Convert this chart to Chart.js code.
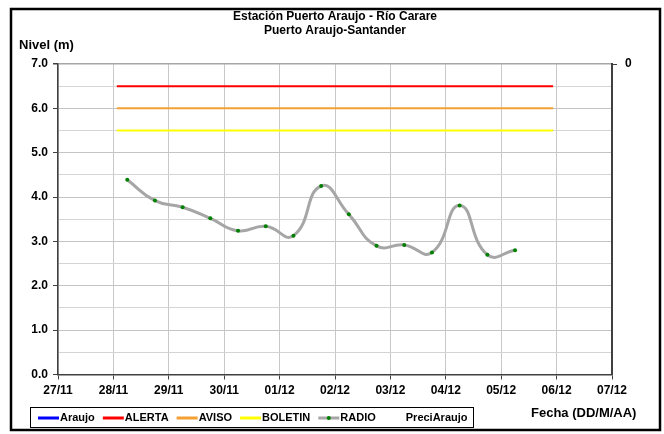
<!DOCTYPE html>
<html>
<head>
<meta charset="utf-8">
<title>Estación Puerto Araujo - Río Carare</title>
<script src="https://cdn.jsdelivr.net/npm/chart.js@4.4.1/dist/chart.umd.min.js"></script>
<style>
  body { margin: 0; background: #fff; }
  canvas { display: block; }
</style>
</head>
<body>
<canvas id="nivel-chart" width="664" height="434"></canvas>
<script>
// datos
const tickLabels = ['27/11', '28/11', '29/11', '30/11', '01/12', '02/12', '03/12', '04/12', '05/12', '06/12', '07/12'];
const radioTimes = ['28/11 06:00', '28/11 18:00', '29/11 06:00', '29/11 18:00', '30/11 06:00', '30/11 18:00',
    '01/12 06:00', '01/12 18:00', '02/12 06:00', '02/12 18:00', '03/12 06:00', '03/12 18:00',
    '04/12 06:00', '04/12 18:00', '05/12 06:00'];
const radioLevels = [4.39, 3.92, 3.77, 3.52, 3.24, 3.34, 3.13, 4.25, 3.61, 2.90, 2.92, 2.75, 3.81, 2.70, 2.80];
const thresholdNames = ['ALERTA', 'AVISO', 'BOLETIN'];
const thresholdLevels = [6.5, 6.0, 5.5];
const thresholdColors = ['#ff0000', '#f4a034', '#ffff00'];
const thresholdSpan = ['28/11 01:30', '05/12 22:30'];

const FONT = '"Liberation Sans", Arial, sans-serif';

// fecha 'DD/MM HH:MM' -> días desde 27/11
function toDays(s) {
    const [d, t] = s.split(' ');
    const [dd, mm] = d.split('/').map(Number);
    const [hh, mi] = (t || '00:00').split(':').map(Number);
    return (Date.UTC(2000, mm - 1, dd, hh, mi) - Date.UTC(2000, 10, 27)) / 86400000;
}

const datasets = [{
    label: 'Araujo',
    data: [],
    borderColor: '#0000ff',
    borderWidth: 2.5,
    pointRadius: 0
}];
thresholdNames.forEach((name, i) => {
    datasets.push({
        label: name,
        data: thresholdSpan.map(t => ({ x: toDays(t), y: thresholdLevels[i] })),
        borderColor: thresholdColors[i],
        borderWidth: 2,
        pointRadius: 0
    });
});
datasets.push({
    label: 'RADIO',
    data: radioTimes.map((t, i) => ({ x: toDays(t), y: radioLevels[i] })),
    borderColor: '#a6a6a6',
    borderWidth: 3,
    tension: 0.5,
    pointRadius: 2,
    pointBackgroundColor: '#008000',
    pointBorderColor: '#008000',
    pointBorderWidth: 0
});
datasets.push({
    label: 'PreciAraujo',
    data: [],
    yAxisID: 'y2',
    borderColor: 'rgba(0,0,0,0)',
    pointRadius: 0
});

// títulos, leyenda y marco
const decorPlugin = {
    id: 'decor',
    beforeDraw(chart) {
        const ctx = chart.ctx;
        ctx.save();
        ctx.fillStyle = '#fff';
        ctx.fillRect(0, 0, chart.width, chart.height);
        ctx.restore();
    },
    afterDraw(chart) {
        const ctx = chart.ctx;
        const area = chart.chartArea;
        ctx.save();
        ctx.fillStyle = '#000';
        ctx.textBaseline = 'middle';

        ctx.font = 'bold 12px ' + FONT;
        ctx.textAlign = 'center';
        const cx = (area.left + area.right) / 2;
        ctx.fillText('Estación Puerto Araujo - Río Carare', cx, 17);
        ctx.fillText('Puerto Araujo-Santander', cx, 31);

        ctx.font = 'bold 13px ' + FONT;
        ctx.textAlign = 'left';
        ctx.fillText('Nivel (m)', 19, 45);
        ctx.fillText('Fecha (DD/M/AA)', 531, 413);

        // leyenda
        ctx.lineWidth = 1;
        ctx.strokeStyle = '#000';
        ctx.strokeRect(30.5, 407.5, 443, 20);
        ctx.font = 'bold 11px ' + FONT;
        let x = 38;
        const y = 418;
        chart.data.datasets.forEach(ds => {
            ctx.strokeStyle = ds.borderColor;
            ctx.lineWidth = 3;
            ctx.beginPath();
            ctx.moveTo(x, y);
            ctx.lineTo(x + 21, y);
            ctx.stroke();
            if (ds.pointRadius > 0) {
                ctx.fillStyle = ds.pointBackgroundColor;
                ctx.beginPath();
                ctx.arc(x + 10.5, y, 2, 0, Math.PI * 2);
                ctx.fill();
            }
            ctx.fillStyle = '#000';
            ctx.fillText(ds.label, x + 22, y);
            x += 22 + ctx.measureText(ds.label).width + 8;
        });

        // marco exterior
        ctx.lineWidth = 2.5;
        ctx.strokeStyle = '#000';
        ctx.strokeRect(11, 9, 649, 421);
        ctx.restore();
    }
};

new Chart(document.getElementById('nivel-chart'), {
    type: 'line',
    data: { datasets: datasets },
    plugins: [decorPlugin],
    options: {
        responsive: false,
        animation: false,
        layout: { padding: { top: 64, bottom: 29.5, left: 0, right: 0 } },
        plugins: {
            legend: { display: false },
            title: { display: false },
            tooltip: { enabled: false }
        },
        scales: {
            x: {
                type: 'linear',
                min: 0,
                max: 10,
                afterFit: scale => { scale.height = 30; },
                ticks: {
                    stepSize: 1,
                    padding: 4,
                    color: '#000',
                    font: { family: FONT, size: 12, weight: 'bold' },
                    maxRotation: 0,
                    callback: v => tickLabels[v]
                },
                grid: { color: '#c8c8c8', tickLength: 5, tickColor: '#404040' },
                border: { color: '#404040', width: 1.5 }
            },
            y: {
                min: 0,
                max: 7,
                afterFit: scale => { scale.width = 58; },
                ticks: {
                    stepSize: 0.5,
                    padding: 5,
                    color: '#000',
                    font: { family: FONT, size: 12, weight: 'bold' },
                    callback: v => (Number.isInteger(v) ? v.toFixed(1) : '')
                },
                grid: {
                    color: c => (c.tick && c.tick.value === 7 ? '#a6a6a6' : (Number.isInteger(c.tick && c.tick.value) ? '#c4c4c4' : '#d4d4d4')),
                    lineWidth: c => (c.tick && c.tick.value === 7 ? 1.5 : 1),
                    tickLength: 5,
                    tickColor: c => (Number.isInteger(c.tick && c.tick.value) ? '#404040' : 'rgba(0,0,0,0)')
                },
                border: { color: '#404040', width: 1.5 }
            },
            y2: {
                position: 'right',
                reverse: true,
                min: 0,
                max: 10,
                afterFit: scale => { scale.width = 52; },
                afterBuildTicks: scale => { scale.ticks = [{ value: 0 }]; },
                ticks: {
                    padding: 8,
                    color: '#000',
                    font: { family: FONT, size: 12, weight: 'bold' },
                    callback: v => String(v)
                },
                grid: { drawOnChartArea: false, tickLength: 5, tickColor: '#404040' },
                border: { color: '#404040', width: 2 }
            }
        }
    }
});
</script>
</body>
</html>
